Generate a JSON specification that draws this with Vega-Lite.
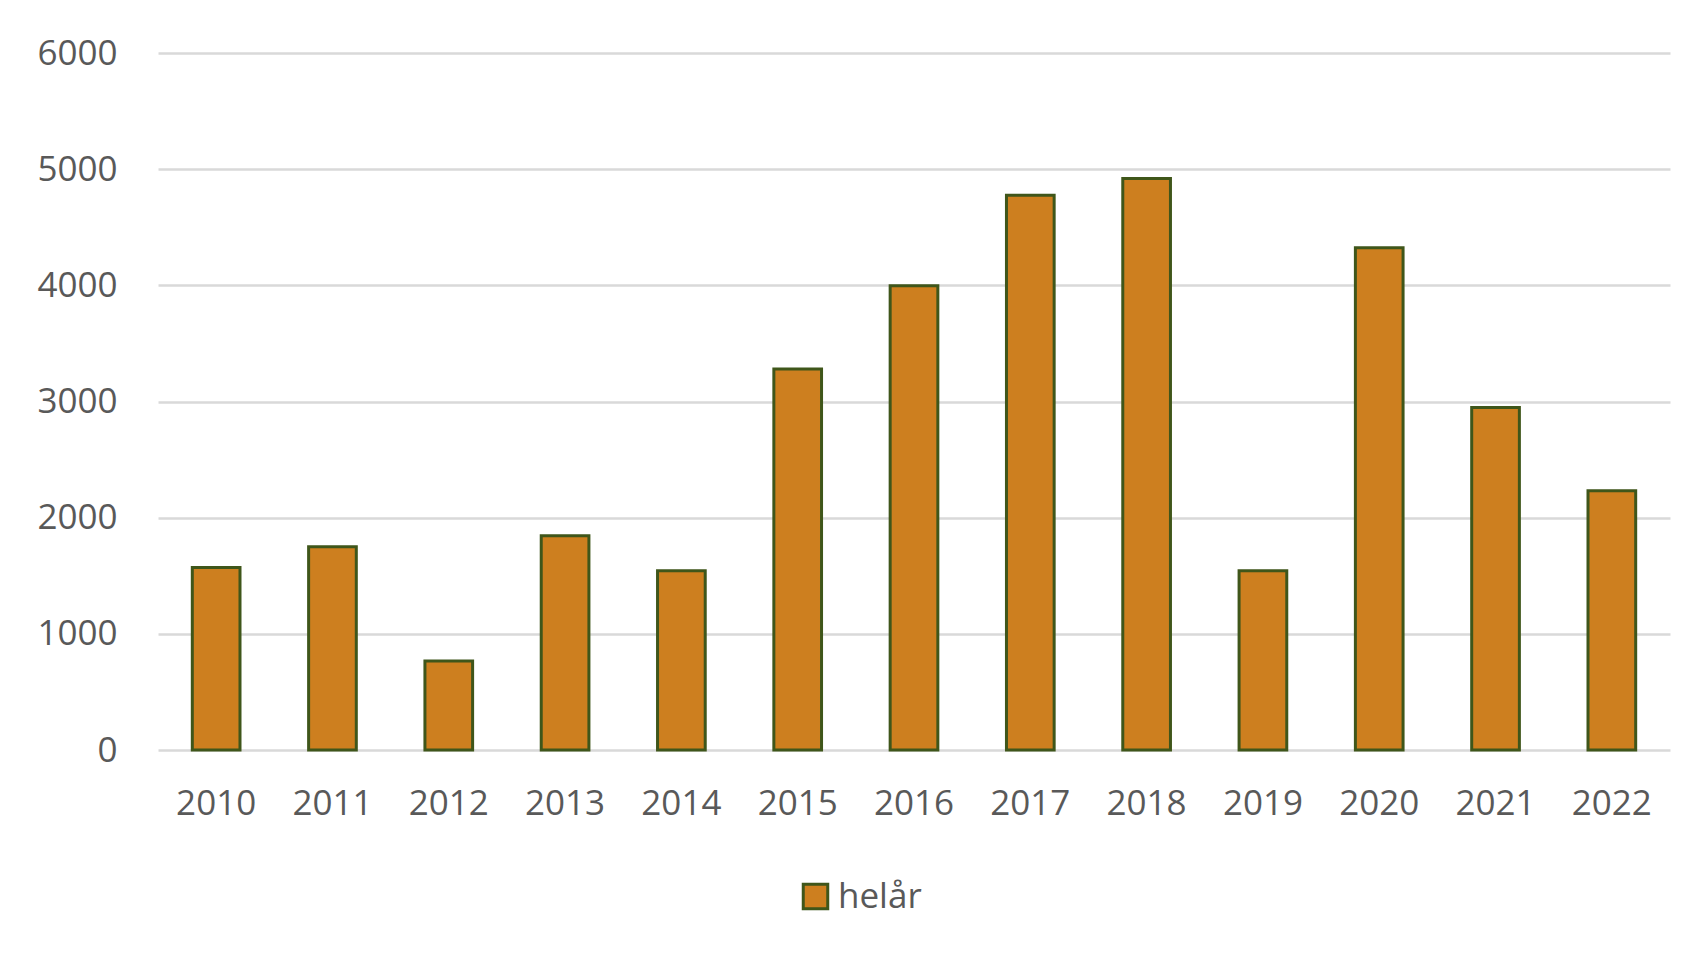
{
  "$schema": "https://vega.github.io/schema/vega-lite/v6.json",
  "autosize": {"type": "none"},
  "width": 1512,
  "height": 697,
  "padding": {"left": 158, "top": 53, "right": 33, "bottom": 209},
  "background": "#ffffff",
  "data": {
    "values": [
      {"year": "2010", "value": 1572, "series": "helår"},
      {"year": "2011", "value": 1750, "series": "helår"},
      {"year": "2012", "value": 766, "series": "helår"},
      {"year": "2013", "value": 1844, "series": "helår"},
      {"year": "2014", "value": 1543, "series": "helår"},
      {"year": "2015", "value": 3279, "series": "helår"},
      {"year": "2016", "value": 3996, "series": "helår"},
      {"year": "2017", "value": 4776, "series": "helår"},
      {"year": "2018", "value": 4920, "series": "helår"},
      {"year": "2019", "value": 1543, "series": "helår"},
      {"year": "2020", "value": 4323, "series": "helår"},
      {"year": "2021", "value": 2949, "series": "helår"},
      {"year": "2022", "value": 2231, "series": "helår"}
    ]
  },
  "mark": {"type": "bar", "stroke": "#3f561a", "strokeWidth": 3},
  "encoding": {
    "x": {
      "field": "year",
      "type": "ordinal",
      "scale": {"paddingInner": 0.59, "paddingOuter": 0.295},
      "axis": {
        "title": null,
        "labelAngle": 0,
        "domain": false,
        "ticks": false,
        "labelPadding": 36,
        "labelFont": "Open Sans",
        "labelFontSize": 35,
        "labelColor": "#595959"
      }
    },
    "y": {
      "field": "value",
      "type": "quantitative",
      "scale": {"domain": [0, 6000], "nice": false},
      "axis": {
        "title": null,
        "values": [0, 1000, 2000, 3000, 4000, 5000, 6000],
        "format": "d",
        "domain": false,
        "ticks": false,
        "labelPadding": 41,
        "labelFont": "Open Sans",
        "labelFontSize": 35,
        "labelColor": "#595959",
        "grid": true,
        "gridColor": "#d9d9d9",
        "gridWidth": 2.5
      }
    },
    "color": {
      "field": "series",
      "type": "nominal",
      "scale": {"range": ["#cd7f1f"]},
      "legend": {
        "title": null,
        "orient": "none",
        "legendX": 640,
        "legendY": 826,
        "symbolType": "square",
        "symbolSize": 600,
        "symbolStrokeColor": "#3f561a",
        "symbolStrokeWidth": 3,
        "labelFont": "Open Sans",
        "labelFontSize": 35,
        "labelColor": "#595959",
        "labelOffset": 5
      }
    }
  },
  "config": {"view": {"stroke": null}}
}
